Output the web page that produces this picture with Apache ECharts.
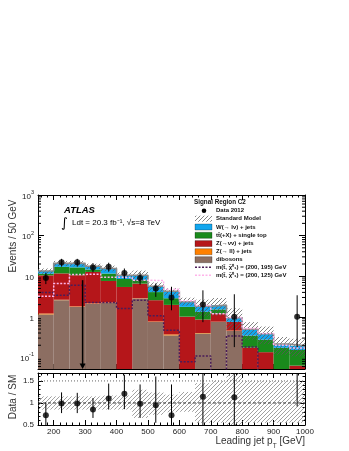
<!DOCTYPE html>
<html>
<head>
<meta charset="utf-8">
<script src="https://cdn.jsdelivr.net/npm/echarts@6.0.0/dist/echarts.min.js"></script>
<style>
html,body{margin:0;padding:0;background:#ffffff;}
#chart{width:349px;height:451px;}
</style>
</head>
<body>
<div id="chart"></div>
<script>
// ---------------- data ----------------
const binLow    = [150,200,250,300,350,400,450,500,550,600,650,700,750,800,850,900,950];
const binHigh   = [200,250,300,350,400,450,500,550,600,650,700,750,800,850,900,950,1000];
const binCenter = [175,225,275,325,375,425,475,525,575,625,675,725,775,825,875,925,975];

const dibosons = [1.15,2.58,1.76,2.10,2.20,0.00,2.84,0.75,0.35,0.00,0.39,0.75,0.45,0.00,0.00,0.00,0.00];
const zllJets  = [0.06,0.06,0.05,0.05,0.05,0.04,0.04,0.02,0.02,0.01,0.01,0.01,0.01,0.005,0.005,0.003,0.003];
const zvvJets  = [9.3,9.1,8.8,10.6,5.4,5.4,3.7,1.8,1.6,1.0,0.46,0.44,0.29,0.17,0.13,0.04,0.06];
const ttbarTop = [1.0,5.3,5.9,1.9,4.0,3.1,1.4,1.5,0.9,0.75,0.47,0.32,0.0,0.17,0.14,0.13,0.09];
const wJets    = [2.0,3.7,4.2,3.0,3.9,2.0,2.6,1.6,1.4,0.6,0.5,0.42,0.2,0.15,0.11,0.04,0.04];

const signal195 = [4.0,3.4,6.0,2.26,2.26,1.6,2.58,1.06,0.47,0.078,0.108,0.01,0.34,0.18,0.01,0.01,0.01];
const signal125 = [3.2,6.6,11.1,11.2,9.5,9.3,8.0,7.8,4.8,2.5,1.9,1.2,0.97,0.52,0.39,0.2,0.17];

const dataVals    = [9,22,22,16.5,17,12,9,5,3,null,2,null,1,null,null,null,1];
const dataErrLow  = [6.4,17.3,17.3,12.5,13,8.6,6.2,3.1,1.45,null,0.74,null,0.18,null,null,null,0.18];
const dataErrHigh = [12.2,26.8,26.8,21,21.5,15.5,12.3,6.6,5.5,null,4.5,null,3.6,null,null,null,3.4];

const smRelLow  = [0.85,0.85,0.85,0.85,0.85,0.85,0.66,0.73,0.79,0.80,0.55,0.55,0.50,0.55,0.55,0.55,0.55];
const smRelHigh = [1.15,1.15,1.15,1.15,1.17,1.17,1.30,1.24,1.19,1.25,1.45,1.50,1.70,1.50,1.50,1.50,1.50];

const ratioVals    = [0.72,0.99,0.99,0.85,1.10,1.21,0.98,0.95,0.72,null,1.14,null,1.13,null,null,null,5.3];
const ratioErrLow  = [0.5,0.77,0.77,0.66,0.85,0.86,0.66,0.55,0.5,null,0.5,null,0.5,null,null,null,0.92];
const ratioErrHigh = [1.01,1.24,1.23,1.11,1.44,1.64,1.42,1.6,1.42,null,1.75,null,1.75,null,null,null,1.75];

const arrowMarks = [[292, 8]];

const xMajorTicks = [200,300,400,500,600,700,800,900,1000];
const xMinorTicks = [160,180,220,240,260,280,320,340,360,380,420,440,460,480,520,540,560,580,620,640,660,680,720,740,760,780,820,840,860,880,920,940,960,980];
const yLogMajorLabels = {0.1:'{b|10}{e|-1}', 1:'{b|1}', 10:'{b|10}', 100:'{b|10}{e|2}', 1000:'{b|10}{e|3}'};
const ratioMajorTicks = [0.5,1,1.5];
const ratioMinorTicks = [0.6,0.7,0.8,0.9,1.1,1.2,1.3,1.4,1.6];

const YMIN = 0.052, YMAX = 1000, RMIN = 0.5, RMAX = 1.68;
const FONT = '"Liberation Sans", Arial, Helvetica, sans-serif';

const colors = {
  w: '#12a6ee', tt: '#1a8a1c', zvv: '#b5161a', zll: '#ff8000', dib: '#8c6e62',
  sig195: '#4a1d58', sig125: '#ffb4ea'
};

// ---------------- helpers ----------------
function makeHatch(color, size) {
  const c = document.createElement('canvas');
  c.width = size; c.height = size;
  const ctx = c.getContext('2d');
  ctx.fillStyle = color;
  for (let i = 0; i < size; i++) ctx.fillRect(i, size - 1 - i, 1, 1);
  return { image: c, repeat: 'repeat' };
}
const hatchMain = makeHatch('rgba(90,90,90,0.75)', 4);
const hatchRatio = makeHatch('rgba(120,120,120,0.7)', 4);

const components = [
  { name: 'dibosons', vals: dibosons, color: colors.dib },
  { name: 'zll', vals: zllJets, color: colors.zll },
  { name: 'zvv', vals: zvvJets, color: colors.zvv },
  { name: 'tt', vals: ttbarTop, color: colors.tt },
  { name: 'w', vals: wJets, color: colors.w }
];
let cum = binLow.map(() => 0);
const stackSeries = components.map(comp => {
  const bottoms = cum.slice();
  cum = cum.map((c, i) => c + comp.vals[i]);
  const tops = cum.slice();
  return {
    type: 'custom', xAxisIndex: 0, yAxisIndex: 0, z: 2,
    encode: { x: [0, 1], y: [2, 3] },
    data: binLow.map((lo, i) => [lo, binHigh[i], bottoms[i], tops[i]]),
    renderItem: (params, api) => {
      const b = api.value(2), t = api.value(3);
      if (!(t > b) || t <= YMIN) return null;
      const p0 = api.coord([api.value(0), t]);
      const p1 = api.coord([api.value(1), Math.max(b, YMIN)]);
      return { type: 'rect', shape: { x: p0[0], y: p0[1], width: p1[0] - p0[0], height: p1[1] - p0[1] },
        style: { fill: comp.color } };
    }
  };
});
const totalSM = cum.slice();

function stepData(vals) {
  const d = binLow.map((lo, i) => [lo, Math.max(vals[i], 0.001)]);
  d.push([binHigh[binHigh.length - 1], Math.max(vals[vals.length - 1], 0.001)]);
  return d;
}

function errBarSeries(xIdx, yIdx, centers, lows, highs, lo, hi) {
  const d = [];
  centers.forEach((c, i) => { if (lows[i] != null) d.push([c, lows[i], highs[i]]); });
  return {
    type: 'custom', xAxisIndex: xIdx, yAxisIndex: yIdx, z: 8,
    encode: { x: 0, y: [1, 2] }, data: d,
    renderItem: (params, api) => {
      const p1 = api.coord([api.value(0), Math.max(api.value(1), lo)]);
      const p2 = api.coord([api.value(0), Math.min(api.value(2), hi)]);
      return { type: 'line', shape: { x1: p1[0], y1: p1[1], x2: p2[0], y2: p2[1] },
        style: { stroke: '#000', lineWidth: 1 } };
    }
  };
}

const logMinor = [];
for (let d = -2; d <= 2; d++) for (let m = 2; m <= 9; m++) {
  const v = m * Math.pow(10, d);
  if (v > YMIN && v < YMAX) logMinor.push(v);
}

// ---------------- option ----------------
const gMain = { left: 38, top: 195, width: 267, height: 174 };
const gRatio = { left: 38, top: 373, width: 267, height: 52 };

function xAx(grid, pos, ticks, len, showLine, showLabel) {
  return {
    type: 'value', gridIndex: grid, position: pos, min: 150, max: 1000,
    axisLine: { show: showLine, onZero: false, lineStyle: { color: '#000', width: 1 } },
    axisTick: { show: true, inside: true, length: len, customValues: ticks, lineStyle: { color: '#000', width: 1 } },
    axisLabel: { show: showLabel, customValues: xMajorTicks, fontSize: 8, color: '#222', margin: 3, fontFamily: FONT,
      formatter: v => String(v) },
    splitLine: { show: false }
  };
}
function rAx(pos, ticks, len, showLine, showLabel) {
  return {
    type: 'value', gridIndex: 1, position: pos, min: RMIN, max: RMAX,
    axisLine: { show: showLine, onZero: false, lineStyle: { color: '#000', width: 1 } },
    axisTick: { show: true, inside: true, length: len, customValues: ticks, lineStyle: { color: '#000', width: 1 } },
    axisLabel: { show: showLabel, customValues: ratioMajorTicks, fontSize: 8, color: '#222', margin: 4, fontFamily: FONT,
      formatter: v => String(v) },
    splitLine: { show: false }
  };
}
function logAx(pos, showLabel) {
  return {
    type: 'log', logBase: 10, gridIndex: 0, position: pos, min: YMIN, max: YMAX,
    axisLine: { show: true, onZero: false, lineStyle: { color: '#000', width: 1 } },
    axisTick: { show: true, inside: true, length: 6, lineStyle: { color: '#000', width: 1 } },
    axisLabel: {
      show: showLabel, margin: 4, color: '#222', fontFamily: FONT,
      formatter: v => {
        const l = Math.log10(v), r = Math.round(l);
        if (Math.abs(l - r) > 1e-6) return '';
        return yLogMajorLabels[Math.pow(10, r).toPrecision(1) * 1] || '';
      },
      rich: {
        b: { fontSize: 8, lineHeight: 11, verticalAlign: 'bottom', fontFamily: FONT, color: '#222' },
        e: { fontSize: 5.5, lineHeight: 11, verticalAlign: 'top', fontFamily: FONT, color: '#222' }
      }
    },
    splitLine: { show: false }
  };
}

const series = [];
stackSeries.forEach(s => series.push(s));

// SM uncertainty band (main)
series.push({
  type: 'custom', xAxisIndex: 0, yAxisIndex: 0, z: 3,
  encode: { x: [0, 1], y: [2, 3] },
  data: binLow.map((lo, i) => [lo, binHigh[i], totalSM[i] * smRelLow[i], totalSM[i] * smRelHigh[i]]),
  renderItem: (params, api) => {
    const t = api.value(3);
    if (t <= YMIN) return null;
    const p0 = api.coord([api.value(0), t]);
    const p1 = api.coord([api.value(1), Math.max(api.value(2), YMIN)]);
    return { type: 'rect', shape: { x: p0[0], y: p0[1], width: p1[0] - p0[0], height: p1[1] - p0[1] },
      style: { fill: hatchMain } };
  }
});
// SM total outline
series.push({
  type: 'line', xAxisIndex: 0, yAxisIndex: 0, step: 'end', z: 4, symbol: 'none', clip: true,
  data: stepData(totalSM), lineStyle: { color: '#8a8a8a', width: 1.6 }
});
// signals
series.push({
  type: 'line', xAxisIndex: 0, yAxisIndex: 0, step: 'end', z: 5, symbol: 'none', clip: true,
  data: stepData(signal195), lineStyle: { color: colors.sig195, width: 1.5, type: [2, 1.5] }
});
series.push({
  type: 'line', xAxisIndex: 0, yAxisIndex: 0, step: 'end', z: 5, symbol: 'none', clip: true,
  data: stepData(signal125), lineStyle: { color: colors.sig125, width: 1.5, type: [2, 1.5] }
});
// data
series.push(errBarSeries(0, 0, binCenter, dataErrLow, dataErrHigh, YMIN, YMAX));
series.push({
  type: 'scatter', xAxisIndex: 0, yAxisIndex: 0, z: 9, symbol: 'circle', symbolSize: 6, clip: true,
  data: binCenter.map((c, i) => dataVals[i] == null ? null : [c, dataVals[i]]).filter(Boolean),
  itemStyle: { color: '#000' }
});
// down arrow
series.push({
  type: 'custom', xAxisIndex: 0, yAxisIndex: 0, z: 9, encode: { x: 0, y: 1 },
  data: arrowMarks,
  renderItem: (params, api) => {
    const top = api.coord([api.value(0), api.value(1)]);
    const bot = api.coord([api.value(0), YMIN]);
    return { type: 'group', children: [
      { type: 'line', shape: { x1: top[0], y1: top[1], x2: bot[0], y2: bot[1] - 4 }, style: { stroke: '#000', lineWidth: 1.5 } },
      { type: 'polygon', shape: { points: [[bot[0] - 3, bot[1] - 5.5], [bot[0] + 3, bot[1] - 5.5], [bot[0], bot[1]]] }, style: { fill: '#000' } }
    ] };
  }
});
// log minor ticks
series.push({
  type: 'custom', xAxisIndex: 0, yAxisIndex: 0, z: 10, encode: { y: 0 },
  data: logMinor.map(v => [v]),
  renderItem: (params, api) => {
    const pl = api.coord([150, api.value(0)]);
    const pr = api.coord([1000, api.value(0)]);
    return { type: 'group', children: [
      { type: 'line', shape: { x1: pl[0], y1: pl[1], x2: pl[0] + 3, y2: pl[1] }, style: { stroke: '#000', lineWidth: 1 } },
      { type: 'line', shape: { x1: pr[0] - 3, y1: pr[1], x2: pr[0], y2: pr[1] }, style: { stroke: '#000', lineWidth: 1 } }
    ] };
  }
});

// ratio band
series.push({
  type: 'custom', xAxisIndex: 4, yAxisIndex: 2, z: 2,
  encode: { x: [0, 1], y: [2, 3] },
  data: binLow.map((lo, i) => [lo, binHigh[i], smRelLow[i], smRelHigh[i]]),
  renderItem: (params, api) => {
    const p0 = api.coord([api.value(0), Math.min(api.value(3), RMAX)]);
    const p1 = api.coord([api.value(1), Math.max(api.value(2), RMIN)]);
    return { type: 'rect', shape: { x: p0[0], y: p0[1], width: p1[0] - p0[0], height: p1[1] - p0[1] },
      style: { fill: hatchRatio } };
  }
});
// reference lines
series.push({
  type: 'line', xAxisIndex: 4, yAxisIndex: 2, z: 3, symbol: 'none',
  data: [[150, 1], [1000, 1]], lineStyle: { color: '#333', width: 1, type: [3, 2] }
});
series.push({
  type: 'line', xAxisIndex: 4, yAxisIndex: 2, z: 3, symbol: 'none',
  data: [[150, 1.5], [1000, 1.5]], lineStyle: { color: '#666', width: 1, type: [1, 2] }
});
series.push(errBarSeries(4, 2, binCenter, ratioErrLow, ratioErrHigh, RMIN, RMAX));
series.push({
  type: 'scatter', xAxisIndex: 4, yAxisIndex: 2, z: 9, symbol: 'circle', symbolSize: 6, clip: true,
  data: binCenter.map((c, i) => ratioVals[i] == null ? null : [c, ratioVals[i]]).filter(Boolean),
  itemStyle: { color: '#000' }
});

// ---------------- graphic (titles, legend) ----------------
const legendX = 195, legendTextX = 216;
const legendRows = [
  { y: 210.7, kind: 'data', text: 'Data 2012' },
  { y: 218.7, kind: 'hatch', text: 'Standard Model' },
  { y: 227.0, kind: 'box', color: colors.w, text: 'W(\u2192 l\u03bd) + jets' },
  { y: 235.3, kind: 'box', color: colors.tt, text: 'tt\u0304(+X) + single top' },
  { y: 243.6, kind: 'box', color: colors.zvv, text: 'Z(\u2192\u03bd\u03bd) + jets' },
  { y: 251.7, kind: 'box', color: colors.zll, text: 'Z(\u2192 ll) + jets' },
  { y: 259.7, kind: 'box', color: colors.dib, text: 'dibosons' },
  { y: 267.3, kind: 'dash', color: colors.sig195, text: 'm(t\u0303, \u03c7\u0303\u2070\u2081) = (200, 195) GeV' },
  { y: 275.3, kind: 'dash', color: colors.sig125, text: 'm(t\u0303, \u03c7\u0303\u2070\u2081) = (200, 125) GeV' }
];
const graphics = [];
graphics.push({ type: 'text', left: 194, top: 199, style: { text: 'Signal Region C2', font: 'bold 6.3px ' + FONT, fill: '#111' } });
legendRows.forEach(r => {
  if (r.kind === 'data') {
    graphics.push({ type: 'circle', shape: { cx: 204, cy: r.y, r: 2.3 }, style: { fill: '#000' } });
  } else if (r.kind === 'hatch') {
    graphics.push({ type: 'rect', shape: { x: legendX, y: r.y - 3, width: 17, height: 6 }, style: { fill: hatchMain } });
  } else if (r.kind === 'box') {
    graphics.push({ type: 'rect', shape: { x: legendX, y: r.y - 3, width: 17, height: 6 }, style: { fill: r.color, stroke: 'rgba(0,0,0,0.45)', lineWidth: 0.6 } });
  } else {
    graphics.push({ type: 'line', shape: { x1: legendX, y1: r.y, x2: legendX + 17, y2: r.y }, style: { stroke: r.color, lineWidth: 1.5, lineDash: [2, 1.5] } });
  }
  graphics.push({ type: 'text', x: legendTextX, y: r.y, style: { text: r.text, font: 'bold 6px ' + FONT, fill: '#111', textVerticalAlign: 'middle', verticalAlign: 'middle' } });
});
graphics.push({ type: 'text', x: 64, y: 210, style: { text: 'ATLAS', font: 'italic bold 9.5px ' + FONT, fill: '#000', verticalAlign: 'middle' } });
graphics.push({ type: 'text', x: 61, y: 224, style: { text: '\u222b', font: '13px "DejaVu Sans", ' + FONT, fill: '#000', verticalAlign: 'middle' } });
graphics.push({ type: 'text', x: 72, y: 223, style: { text: 'Ldt = 20.3 fb\u207b\u00b9, \u221as=8 TeV', font: '8px ' + FONT, fill: '#000', verticalAlign: 'middle' } });
graphics.push({ type: 'text', x: 13, y: 236, rotation: Math.PI / 2, style: { text: 'Events / 50 GeV', font: '10px ' + FONT, fill: '#333', align: 'center', verticalAlign: 'middle' } });
graphics.push({ type: 'text', x: 13, y: 397, rotation: Math.PI / 2, style: { text: 'Data / SM', font: '10px ' + FONT, fill: '#333', align: 'center', verticalAlign: 'middle' } });
graphics.push({ type: 'text', x: 305, y: 436, style: {
  text: '{a|Leading jet p}{s|T}{a| [GeV]}', align: 'right',
  rich: {
    a: { fontSize: 10, lineHeight: 14, verticalAlign: 'top', fontFamily: FONT, fill: '#333', color: '#333' },
    s: { fontSize: 6.5, lineHeight: 14, padding: [7, 0, 0, 0], verticalAlign: 'top', fontFamily: FONT, fill: '#333', color: '#333' }
  }
} });

const option = {
  animation: false,
  backgroundColor: '#ffffff',
  grid: [
    Object.assign({ containLabel: false, outerBoundsMode: 'none' }, gMain),
    Object.assign({ containLabel: false, outerBoundsMode: 'none' }, gRatio)
  ],
  xAxis: [
    xAx(0, 'bottom', xMajorTicks, 5, true, false),
    xAx(0, 'top', xMajorTicks, 5, true, false),
    xAx(0, 'bottom', xMinorTicks, 2.5, false, false),
    xAx(0, 'top', xMinorTicks, 2.5, false, false),
    xAx(1, 'bottom', xMajorTicks, 5, true, true),
    xAx(1, 'top', xMajorTicks, 5, true, false),
    xAx(1, 'bottom', xMinorTicks, 2.5, false, false),
    xAx(1, 'top', xMinorTicks, 2.5, false, false)
  ],
  yAxis: [
    logAx('left', true),
    logAx('right', false),
    rAx('left', ratioMajorTicks, 5, true, true),
    rAx('right', ratioMajorTicks, 5, true, false),
    rAx('left', ratioMinorTicks, 2.5, false, false),
    rAx('right', ratioMinorTicks, 2.5, false, false)
  ],
  series: series,
  graphic: graphics
};

const chart = echarts.init(document.getElementById('chart'), null, { renderer: 'canvas' });
chart.setOption(option);
</script>
</body>
</html>
